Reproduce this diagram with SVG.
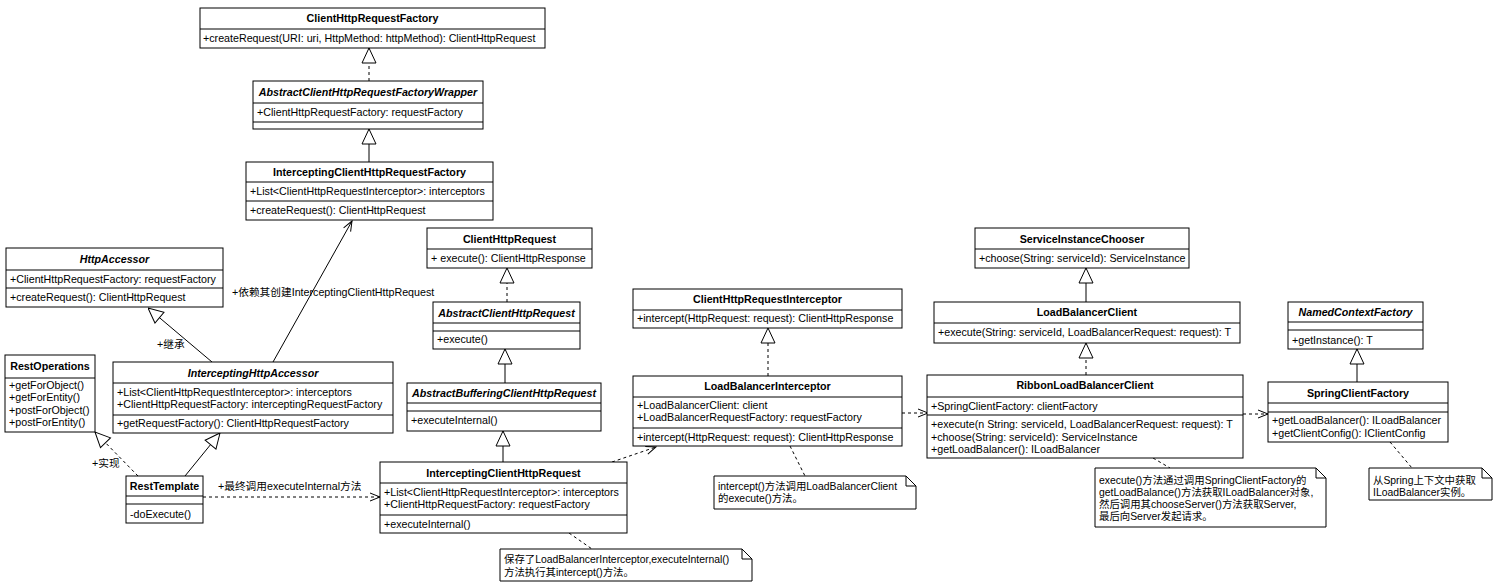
<svg xmlns="http://www.w3.org/2000/svg" width="1500" height="588" viewBox="0 0 1500 588">
<style>
text{font-family:"Liberation Sans","Noto Sans CJK SC",sans-serif;font-size:10.7px;fill:#000}
.h{font-weight:bold;text-anchor:middle}
.hi{font-weight:bold;font-style:italic;text-anchor:middle}
.n{font-size:10.4px}
.b{fill:#fff;stroke:#000;stroke-width:1}
.d{stroke:#000;stroke-width:1;fill:none}
.c{stroke:#000;stroke-width:1;fill:none}
.ds{stroke-dasharray:3,3}
</style>
<defs>
<marker id="tri" viewBox="0 0 16 16" refX="16" refY="8" markerWidth="16" markerHeight="16" markerUnits="userSpaceOnUse" orient="auto">
<path d="M1,1 L16,8 L1,15 Z" fill="#fff" stroke="#000" stroke-width="1"/>
</marker>
<marker id="open" viewBox="0 0 12 10" refX="11" refY="5" markerWidth="12" markerHeight="10" markerUnits="userSpaceOnUse" orient="auto">
<path d="M1,1 L11,5 L1,9" fill="none" stroke="#000" stroke-width="1"/>
</marker>
</defs>
<rect width="1500" height="588" fill="#fff"/>

<g id="connectors">
<path class="c ds" d="M369,81 V48" marker-end="url(#tri)"/>
<path class="c" d="M369,162 V129" marker-end="url(#tri)"/>
<path class="c" d="M212,362 L148,308" marker-end="url(#tri)"/>
<path class="c" d="M273,362 L352,221" marker-end="url(#open)"/>
<path class="c ds" d="M138,476 L95,432" marker-end="url(#tri)"/>
<path class="c" d="M185,476 L220,433" marker-end="url(#tri)"/>
<path class="c ds" d="M203,497 H380" marker-end="url(#open)"/>
<path class="c ds" d="M507,302 V268" marker-end="url(#tri)"/>
<path class="c" d="M505,383 V349" marker-end="url(#tri)"/>
<path class="c" d="M503,462 V431" marker-end="url(#tri)"/>
<path class="c ds" d="M612,462 L656,447" marker-end="url(#open)"/>
<path class="c ds" d="M768,376 V328" marker-end="url(#tri)"/>
<path class="c ds" d="M902,413 H928" marker-end="url(#open)"/>
<path class="c" d="M1086,302 V268" marker-end="url(#tri)"/>
<path class="c ds" d="M1086,375 V343" marker-end="url(#tri)"/>
<path class="c" d="M1357,382 V349" marker-end="url(#tri)"/>
<path class="c ds" d="M1243,414 H1268" marker-end="url(#open)"/>
<path class="c ds" d="M569,533 L592,549"/>
<path class="c ds" d="M790,446 L805,476"/>
<path class="c ds" d="M1153,458 L1170,468"/>
<path class="c ds" d="M1390,442 L1412,468"/>
<text x="232" y="296">+依赖其创建InterceptingClientHttpRequest</text>
<text x="157" y="348">+继承</text>
<text x="92" y="467">+实现</text>
<text x="218" y="490">+最终调用executeInternal方法</text>
</g>

<g id="ClientHttpRequestFactory">
<rect class="b" x="200" y="8" width="345" height="40"/>
<path class="d" d="M200,29 H545"/>
<text class="h" x="372.5" y="22">ClientHttpRequestFactory</text>
<text x="203" y="42">+createRequest(URI: uri, HttpMethod: httpMethod): ClientHttpRequest</text>
</g>

<g id="AbstractClientHttpRequestFactoryWrapper">
<rect class="b" x="253" y="81" width="230" height="48"/>
<path class="d" d="M253,103 H483 M253,122 H483"/>
<text class="hi" x="368" y="96">AbstractClientHttpRequestFactoryWrapper</text>
<text x="257" y="116">+ClientHttpRequestFactory: requestFactory</text>
</g>

<g id="InterceptingClientHttpRequestFactory">
<rect class="b" x="246" y="162" width="247" height="58"/>
<path class="d" d="M246,182 H493 M246,201 H493"/>
<text class="h" x="369.5" y="176">InterceptingClientHttpRequestFactory</text>
<text x="250" y="195">+List&lt;ClientHttpRequestInterceptor&gt;: interceptors</text>
<text x="250" y="214">+createRequest(): ClientHttpRequest</text>
</g>

<g id="HttpAccessor">
<rect class="b" x="6" y="248" width="217" height="59"/>
<path class="d" d="M6,270 H223 M6,288 H223"/>
<text class="hi" x="114.5" y="263">HttpAccessor</text>
<text x="10" y="283">+ClientHttpRequestFactory: requestFactory</text>
<text x="10" y="301">+createRequest(): ClientHttpRequest</text>
</g>

<g id="RestOperations">
<rect class="b" x="5" y="355" width="90" height="77"/>
<path class="d" d="M5,378 H95"/>
<text class="h" x="50" y="370">RestOperations</text>
<text x="9" y="389">+getForObject()</text>
<text x="9" y="401">+getForEntity()</text>
<text x="9" y="414">+postForObject()</text>
<text x="9" y="426">+postForEntity()</text>
</g>

<g id="InterceptingHttpAccessor">
<rect class="b" x="113" y="362" width="280" height="71"/>
<path class="d" d="M113,383 H393 M113,415 H393"/>
<text class="hi" x="253" y="377">InterceptingHttpAccessor</text>
<text x="117" y="396">+List&lt;ClientHttpRequestInterceptor&gt;: interceptors</text>
<text x="117" y="408">+ClientHttpRequestFactory: interceptingRequestFactory</text>
<text x="117" y="427">+getRequestFactory(): ClientHttpRequestFactory</text>
</g>

<g id="RestTemplate">
<rect class="b" x="126" y="476" width="77" height="47"/>
<path class="d" d="M126,496 H203 M126,504 H203"/>
<text class="h" x="164.5" y="490">RestTemplate</text>
<text x="130" y="518">-doExecute()</text>
</g>

<g id="ClientHttpRequest">
<rect class="b" x="427" y="228" width="165" height="40"/>
<path class="d" d="M427,249 H592"/>
<text class="h" x="509.5" y="243">ClientHttpRequest</text>
<text x="431" y="262">+ execute(): ClientHttpResponse</text>
</g>

<g id="AbstractClientHttpRequest">
<rect class="b" x="433" y="302" width="147" height="47"/>
<path class="d" d="M433,323 H580 M433,331 H580"/>
<text class="hi" x="506.5" y="317">AbstractClientHttpRequest</text>
<text x="437" y="343">+execute()</text>
</g>

<g id="AbstractBufferingClientHttpRequest">
<rect class="b" x="407" y="383" width="194" height="48"/>
<path class="d" d="M407,403 H601 M407,411 H601"/>
<text class="hi" x="504" y="397">AbstractBufferingClientHttpRequest</text>
<text x="411" y="424">+executeInternal()</text>
</g>

<g id="InterceptingClientHttpRequest">
<rect class="b" x="380" y="462" width="247" height="71"/>
<path class="d" d="M380,483 H627 M380,515 H627"/>
<text class="h" x="503.5" y="477">InterceptingClientHttpRequest</text>
<text x="384" y="496">+List&lt;ClientHttpRequestInterceptor&gt;: interceptors</text>
<text x="384" y="508">+ClientHttpRequestFactory: requestFactory</text>
<text x="384" y="528">+executeInternal()</text>
</g>

<g id="ClientHttpRequestInterceptor">
<rect class="b" x="633" y="289" width="269" height="39"/>
<path class="d" d="M633,310 H902"/>
<text class="h" x="767.5" y="303">ClientHttpRequestInterceptor</text>
<text x="637" y="322">+intercept(HttpRequest: request): ClientHttpResponse</text>
</g>

<g id="LoadBalancerInterceptor">
<rect class="b" x="633" y="376" width="269" height="70"/>
<path class="d" d="M633,397 H902 M633,428 H902"/>
<text class="h" x="767.5" y="390">LoadBalancerInterceptor</text>
<text x="637" y="409">+LoadBalancerClient: client</text>
<text x="637" y="421">+LoadBalancerRequestFactory: requestFactory</text>
<text x="637" y="441">+intercept(HttpRequest: request): ClientHttpResponse</text>
</g>

<g id="ServiceInstanceChooser">
<rect class="b" x="975" y="228" width="214" height="40"/>
<path class="d" d="M975,249 H1189"/>
<text class="h" x="1082" y="243">ServiceInstanceChooser</text>
<text x="979" y="262">+choose(String: serviceId): ServiceInstance</text>
</g>

<g id="LoadBalancerClient">
<rect class="b" x="934" y="302" width="306" height="41"/>
<path class="d" d="M934,323 H1240"/>
<text class="h" x="1087" y="316">LoadBalancerClient</text>
<text x="938" y="336">+execute(String: serviceId, LoadBalancerRequest: request): T</text>
</g>

<g id="RibbonLoadBalancerClient">
<rect class="b" x="927" y="375" width="316" height="83"/>
<path class="d" d="M927,397 H1243 M927,415 H1243"/>
<text class="h" x="1085" y="389">RibbonLoadBalancerClient</text>
<text x="931" y="410">+SpringClientFactory: clientFactory</text>
<text x="931" y="428">+execute(n String: serviceId, LoadBalancerRequest: request): T</text>
<text x="931" y="441">+choose(String: serviceId): ServiceInstance</text>
<text x="931" y="453">+getLoadBalancer(): ILoadBalancer</text>
</g>

<g id="NamedContextFactory">
<rect class="b" x="1288" y="302" width="135" height="47"/>
<path class="d" d="M1288,322 H1423 M1288,330 H1423"/>
<text class="hi" x="1355.5" y="316">NamedContextFactory</text>
<text x="1292" y="344">+getInstance(): T</text>
</g>

<g id="SpringClientFactory">
<rect class="b" x="1268" y="382" width="180" height="60"/>
<path class="d" d="M1268,403 H1448 M1268,412 H1448"/>
<text class="h" x="1358" y="397">SpringClientFactory</text>
<text x="1272" y="424">+getLoadBalancer(): ILoadBalancer</text>
<text x="1272" y="437">+getClientConfig(): IClientConfig</text>
</g>

<g id="note1">
<path class="b" d="M500,549 H742 L752,559 V581 H500 Z"/>
<path class="d" d="M742,549 V559 H752"/>
<text class="n" x="504" y="563">保存了LoadBalancerInterceptor,executeInternal()</text>
<text class="n" x="504" y="576">方法执行其intercept()方法。</text>
</g>

<g id="note2">
<path class="b" d="M714,476 H906 L916,486 V509 H714 Z"/>
<path class="d" d="M906,476 V486 H916"/>
<text class="n" x="718" y="490">intercept()方法调用LoadBalancerClient</text>
<text class="n" x="718" y="502">的execute()方法。</text>
</g>

<g id="note3">
<path class="b" d="M1095,468 H1316 L1326,478 V527 H1095 Z"/>
<path class="d" d="M1316,468 V478 H1326"/>
<text class="n" x="1099" y="484">execute()方法通过调用SpringClientFactory的</text>
<text class="n" x="1099" y="496">getLoadBalance()方法获取ILoadBalancer对象,</text>
<text class="n" x="1099" y="508">然后调用其chooseServer()方法获取Server,</text>
<text class="n" x="1099" y="520">最后向Server发起请求。</text>
</g>

<g id="note4">
<path class="b" d="M1369,468 H1482 L1492,478 V500 H1369 Z"/>
<path class="d" d="M1482,468 V478 H1492"/>
<text class="n" x="1373" y="484">从Spring上下文中获取</text>
<text class="n" x="1373" y="496">ILoadBalancer实例。</text>
</g>
</svg>
